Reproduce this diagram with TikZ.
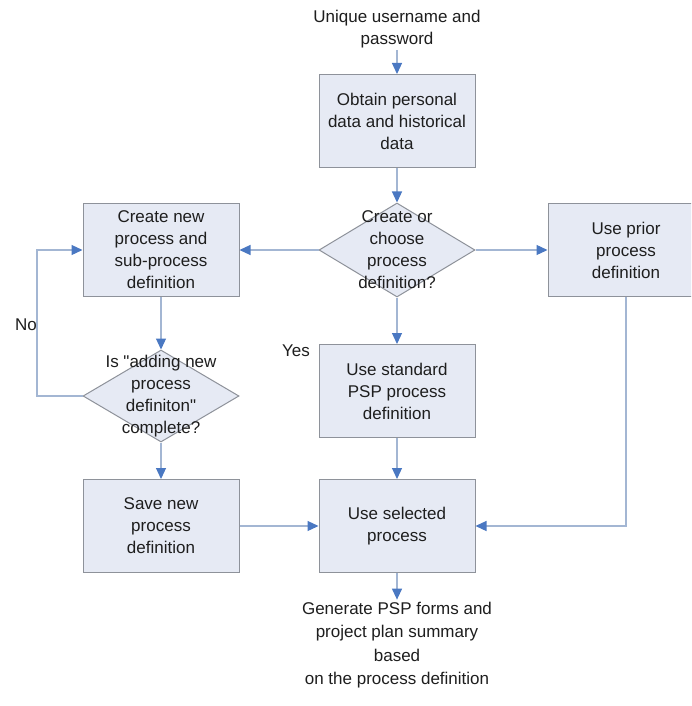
\documentclass[tikz,border=0pt]{standalone}
\usepackage{fontspec}
\setmainfont{Liberation Sans}
\usetikzlibrary{arrows.meta,shapes.geometric}
\definecolor{linec}{HTML}{A3B6D3}
\definecolor{tipc}{HTML}{4A78C2}
\definecolor{boxfill}{HTML}{E6EAF4}
\definecolor{boxline}{HTML}{8E929A}
\definecolor{txt}{HTML}{1E1E1E}
\begin{document}
\begin{tikzpicture}[x=1pt,y=-1pt,
 every node/.style={font=\fontsize{17}{22}\selectfont, text=txt, align=center},
 procbox/.style={draw=boxline, fill=boxfill, line width=1pt, minimum width=156pt, minimum height=93pt, inner sep=0pt},
 decbox/.style={diamond, draw=boxline, fill=boxfill, line width=1pt, minimum width=156pt, minimum height=94pt, inner sep=0pt, aspect=1.66},
 conn/.style={draw=linec, line width=1.2pt, -{Triangle[length=11pt,width=10pt,color=tipc]}},
 plainline/.style={draw=linec, line width=1.2pt}]
\useasboundingbox (0,0) rectangle (691,706);
\fill[white] (0,0) rectangle (691,706);
\clip (0,0) rectangle (691,706);

\node[inner sep=2pt] (start) at (397,29) {Unique username and\\password};
\node[procbox] (obtain) at (397,121) {Obtain personal\\data and historical\\data};
\node[decbox] (d1) at (397,250) {};
\node (d1t) at (397,250) {Create or\\choose\\process\\definition?};
\node[procbox] (create) at (161,250) {Create new\\process and\\sub-process\\definition};
\node[procbox] (prior) at (626,250) {Use prior\\process\\definition};
\node[decbox, minimum height=92pt] (d2) at (161,396) {};
\node (d2t) at (161,396) {Is \textquotedbl adding new\\process\\definiton\textquotedbl\\complete?};
\node[procbox] (std) at (397,391) {Use standard\\PSP process\\definition};
\node[procbox] (save) at (161,526) {Save new\\process\\definition};
\node[procbox] (sel) at (397,526) {Use selected\\process};
\node[font=\fontsize{17}{23.5}\selectfont, inner sep=2pt] (gen) at (397,645) {Generate PSP forms and\\project plan summary\\based\\on the process definition};
\node (no) at (26,325) {No};
\node (yes) at (296,351) {Yes};
\coordinate (loopa) at (37,396);
\coordinate (loopb) at (37,250);
\coordinate (priorc) at (626,526);

\draw[conn] (start) -- (obtain);
\draw[conn] (obtain) -- (d1);
\draw[conn] (d1.west) -- (create.east);
\draw[conn] (d1.east) -- (prior.west);
\draw[conn] (d1.south) -- (std.north);
\draw[conn] (create) -- (d2.north);
\draw[conn] (d2.west) -- (loopa) -- (loopb) -- (create.west);
\draw[conn] (d2.south) -- (save.north);
\draw[conn] (std) -- (sel);
\draw[conn] (save) -- (sel);
\draw[conn] (prior.south) -- (priorc) -- (sel.east);
\draw[conn] (sel) -- (gen);
\end{tikzpicture}
\end{document}
